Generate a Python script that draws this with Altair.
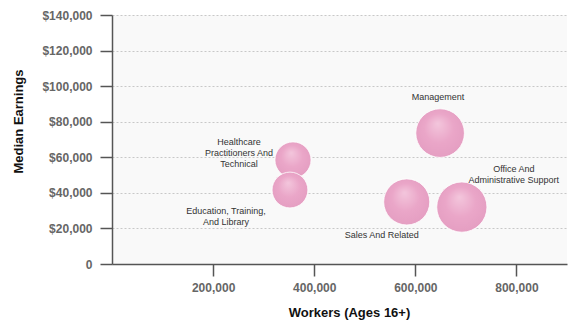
import altair as alt
import pandas as pd

categories = [
    "Healthcare Practitioners And Technical",
    "Education, Training, And Library",
    "Management",
    "Sales And Related",
    "Office And Administrative Support",
]
label_lines = [
    ["Healthcare", "Practitioners And", "Technical"],
    ["Education, Training,", "And Library"],
    ["Management"],
    ["Sales And Related"],
    ["Office And", "Administrative Support"],
]
workers = [358000, 352000, 649000, 583000, 692000]
median_earnings = [58500, 41600, 73600, 34900, 32000]
y_ticks = [0, 20000, 40000, 60000, 80000, 100000, 120000, 140000]
x_ticks = [200000, 400000, 600000, 800000]

df = pd.DataFrame({
    "category": categories,
    "workers": workers,
    "earnings": median_earnings,
})

# label offsets (pixels) relative to bubble centres
label_offsets = {
    "Healthcare Practitioners And Technical": (-54, -18),
    "Education, Training, And Library": (-64, 21),
    "Management": (-2, -36),
    "Sales And Related": (-25, 33),
    "Office And Administrative Support": (52, -38),
}

FONT = "Liberation Sans"

x_enc = alt.X(
    "workers:Q",
    scale=alt.Scale(domain=[0, 900000], nice=False),
    axis=alt.Axis(
        title="Workers (Ages 16+)",
        values=x_ticks,
        labelExpr="format(datum.value, ',.0f')",
        labelOverlap=False,
        labelFlush=False,
        grid=False,
        tickSize=12,
        labelPadding=6,
        domainColor="#555555",
        domainWidth=1.5,
        tickColor="#555555",
        tickWidth=1.5,
        labelFont=FONT,
        labelFontSize=12,
        labelFontWeight="bold",
        labelColor="#666666",
        titleFont=FONT,
        titleFontSize=13,
        titleFontWeight="bold",
        titleColor="#111111",
        titleX=237,
        titleY=48,
        titleBaseline="middle",
    ),
)
y_enc = alt.Y(
    "earnings:Q",
    scale=alt.Scale(domain=[0, 140000], nice=False),
    axis=alt.Axis(
        title="Median Earnings",
        values=y_ticks,
        tickCount=8,
        labelExpr="datum.value == 0 ? '0' : format(datum.value, '$,.0f')",
        labelOverlap=False,
        labelFlush=False,
        grid=True,
        gridColor="#c8c8c8",
        gridDash=[2, 2],
        gridWidth=1,
        tickSize=12,
        labelPadding=8,
        domainColor="#555555",
        domainWidth=1.5,
        tickColor="#555555",
        tickWidth=1.5,
        labelFont=FONT,
        labelFontSize=12,
        labelFontWeight="bold",
        labelColor="#666666",
        titleFont=FONT,
        titleFontSize=13,
        titleFontWeight="bold",
        titleColor="#111111",
        titleX=-94,
        titleY=106,
        titleAngle=-90,
        titleAlign="center",
        titleBaseline="middle",
    ),
)

bubble_fill = alt.Gradient(
    gradient="radial",
    stops=[
        alt.GradientStop(color="#f3c6dc", offset=0),
        alt.GradientStop(color="#eaa6c8", offset=0.5),
        alt.GradientStop(color="#e39cc0", offset=1),
    ],
    x1=0.45, y1=0.3, r1=0,
    x2=0.5, y2=0.5, r2=0.6,
)

bubbles = alt.Chart(df).mark_circle(
    fill=bubble_fill, opacity=1, stroke="white", strokeWidth=0.8
).encode(
    x=x_enc,
    y=y_enc,
    size=alt.Size("workers:Q", scale=alt.Scale(domain=[0, 700000], range=[0, 2550]), legend=None),
)

layers = [bubbles]
for cat, lines in zip(categories, label_lines):
    dx, dy = label_offsets[cat]
    sub = df[df["category"] == cat].copy()
    sub["label"] = [lines]
    layers.append(
        alt.Chart(sub).mark_text(
            font=FONT, fontSize=9, color="#333333", align="center",
            baseline="middle", dx=dx, dy=dy, lineHeight=11,
        ).encode(x=x_enc, y=y_enc, text="label")
    )

chart = alt.layer(*layers).properties(
    width=455,
    height=249,
    autosize=alt.AutoSizeParams(type="none"),
    padding={"left": 112, "top": 15, "right": 2, "bottom": 56},
    background="white",
).configure_view(fill="#f9f9f9", stroke=None)

chart.save("out.html", embed_options={"renderer": "svg", "actions": False})
